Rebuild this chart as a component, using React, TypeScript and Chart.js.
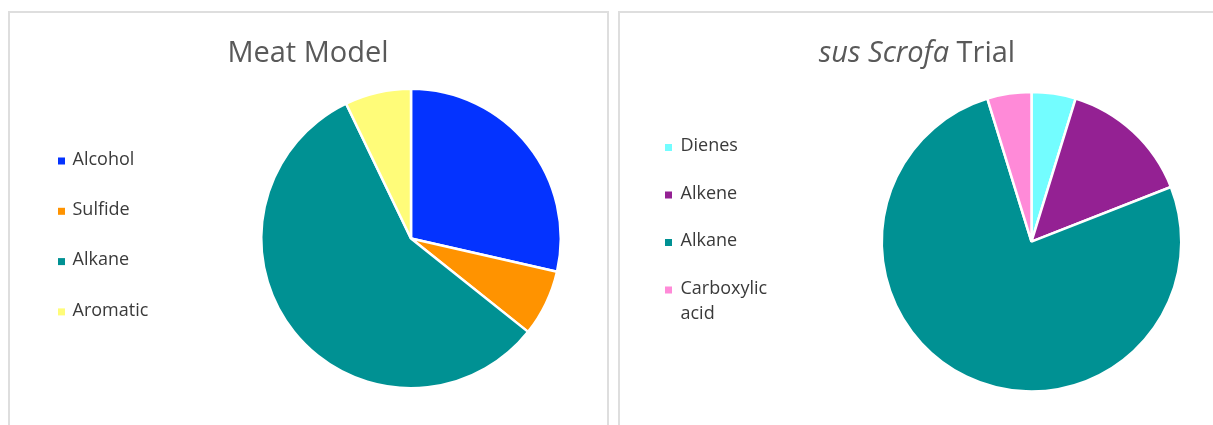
import React, { useEffect, useRef } from 'react';
import { Chart, registerables } from 'chart.js';

Chart.register(...registerables);

// ---- data ----
const meatLabels = ['Alcohol', 'Sulfide', 'Alkane', 'Aromatic'];
const meatValues = [4, 1, 8, 1];
const meatColors = ['#0433FF', '#FF9300', '#009193', '#FFFC79'];

const susLabels = ['Dienes', 'Alkene', 'Alkane', 'Carboxylic acid'];
const susValues = [1, 3, 16, 1];
const susColors = ['#73FDFF', '#942193', '#009193', '#FF8AD8'];

const meatTitle = [{ text: 'Meat Model', italic: false }];
const susTitle = [
  { text: 'sus Scrofa', italic: true },
  { text: ' Trial', italic: false },
];

const FONT = '"Open Sans", "DejaVu Sans", sans-serif';

const sideLegendPlugin = {
  id: 'sideLegend',
  afterDraw(chart: any, _args: any, opts: any) {
    const ctx = chart.ctx;
    const labels = chart.data.labels as string[];
    const colors = chart.data.datasets[0].backgroundColor as string[];
    ctx.save();
    ctx.font = `${opts.fontSize}px ${FONT}`;
    ctx.textBaseline = 'middle';
    ctx.textAlign = 'left';
    let y = opts.y;
    labels.forEach((lab, i) => {
      const words = lab.split(' ');
      const lines: string[] = [];
      let cur = '';
      words.forEach((w) => {
        const t = cur ? cur + ' ' + w : w;
        if (cur && ctx.measureText(t).width > opts.maxWidth) {
          lines.push(cur);
          cur = w;
        } else cur = t;
      });
      lines.push(cur);
      ctx.fillStyle = colors[i];
      ctx.fillRect(opts.boxX, y - opts.box / 2, opts.box, opts.box);
      ctx.fillStyle = opts.color;
      lines.forEach((ln, j) => ctx.fillText(ln, opts.textX, y - 1.5 + j * opts.lineHeight));
      y += opts.spacing;
    });
    ctx.restore();
  },
};

const mixedTitlePlugin = {
  id: 'mixedTitle',
  afterDraw(chart: any, _args: any, opts: any) {
    const ctx = chart.ctx;
    const parts = opts.parts as { text: string; italic: boolean }[];
    ctx.save();
    ctx.textBaseline = 'alphabetic';
    ctx.textAlign = 'left';
    ctx.fillStyle = opts.color;
    const fontFor = (p: any) => `${p.italic ? 'italic ' : ''}${opts.fontSize}px ${FONT}`;
    let total = 0;
    parts.forEach((p) => {
      ctx.font = fontFor(p);
      total += ctx.measureText(p.text).width;
    });
    let x = opts.x - total / 2;
    parts.forEach((p) => {
      ctx.font = fontFor(p);
      ctx.fillText(p.text, x, opts.y);
      x += ctx.measureText(p.text).width;
    });
    ctx.restore();
  },
};

function PieCanvas(props: {
  labels: string[];
  values: number[];
  colors: string[];
  title: { text: string; italic: boolean }[];
  width: number;
  height: number;
  left: number;
  top: number;
  padding: { left: number; top: number; right: number; bottom: number };
  legend: any;
  titleX: number;
}) {
  const ref = useRef<HTMLCanvasElement>(null);
  useEffect(() => {
    if (!ref.current) return;
    const chart = new Chart(ref.current, {
      type: 'pie',
      data: {
        labels: props.labels,
        datasets: [
          {
            data: props.values,
            backgroundColor: props.colors,
            borderColor: '#ffffff',
            borderWidth: 2.5,
          },
        ],
      },
      options: {
        responsive: false,
        animation: false,
        layout: { padding: props.padding },
        plugins: {
          legend: { display: false },
          tooltip: { enabled: false },
          title: { display: false },
          sideLegend: props.legend,
          mixedTitle: {
            parts: props.title,
            x: props.titleX,
            y: 48,
            fontSize: 29,
            color: '#595959',
          },
        } as any,
      },
      plugins: [sideLegendPlugin, mixedTitlePlugin],
    });
    return () => chart.destroy();
  }, []);
  return (
    <canvas
      ref={ref}
      width={props.width}
      height={props.height}
      style={{ position: 'absolute', left: props.left, top: props.top, width: props.width, height: props.height }}
    />
  );
}

export default function App() {
  const panel = (left: number, width: number): React.CSSProperties => ({
    position: 'absolute',
    left,
    top: 11,
    width,
    height: 440,
    border: '2px solid #dedede',
    boxSizing: 'border-box',
    background: '#ffffff',
  });
  return (
    <div
      style={{
        position: 'absolute',
        left: 0,
        top: 0,
        width: 1213,
        height: 425,
        overflow: 'hidden',
        background: '#ffffff',
      }}
    >
      <div style={panel(8, 601)} />
      <div style={panel(618, 620)} />
      <PieCanvas
        labels={meatLabels}
        values={meatValues}
        colors={meatColors}
        title={meatTitle}
        width={596}
        height={411}
        left={10}
        top={14}
        padding={{ left: 250, top: 73.5, right: 44, bottom: 35.5 }}
        titleX={298}
        legend={{
          boxX: 48,
          textX: 62.5,
          box: 7,
          y: 147,
          spacing: 50.3,
          fontSize: 18,
          lineHeight: 25,
          maxWidth: 100,
          color: '#3a3a3a',
        }}
      />
      <PieCanvas
        labels={susLabels}
        values={susValues}
        colors={susColors}
        title={susTitle}
        width={593}
        height={411}
        left={620}
        top={14}
        padding={{ left: 260.5, top: 76.7, right: 30.5, bottom: 32.3 }}
        titleX={297}
        legend={{
          boxX: 45,
          textX: 60.5,
          box: 7,
          y: 133.5,
          spacing: 47.5,
          fontSize: 18,
          lineHeight: 25,
          maxWidth: 100,
          color: '#3a3a3a',
        }}
      />
    </div>
  );
}
